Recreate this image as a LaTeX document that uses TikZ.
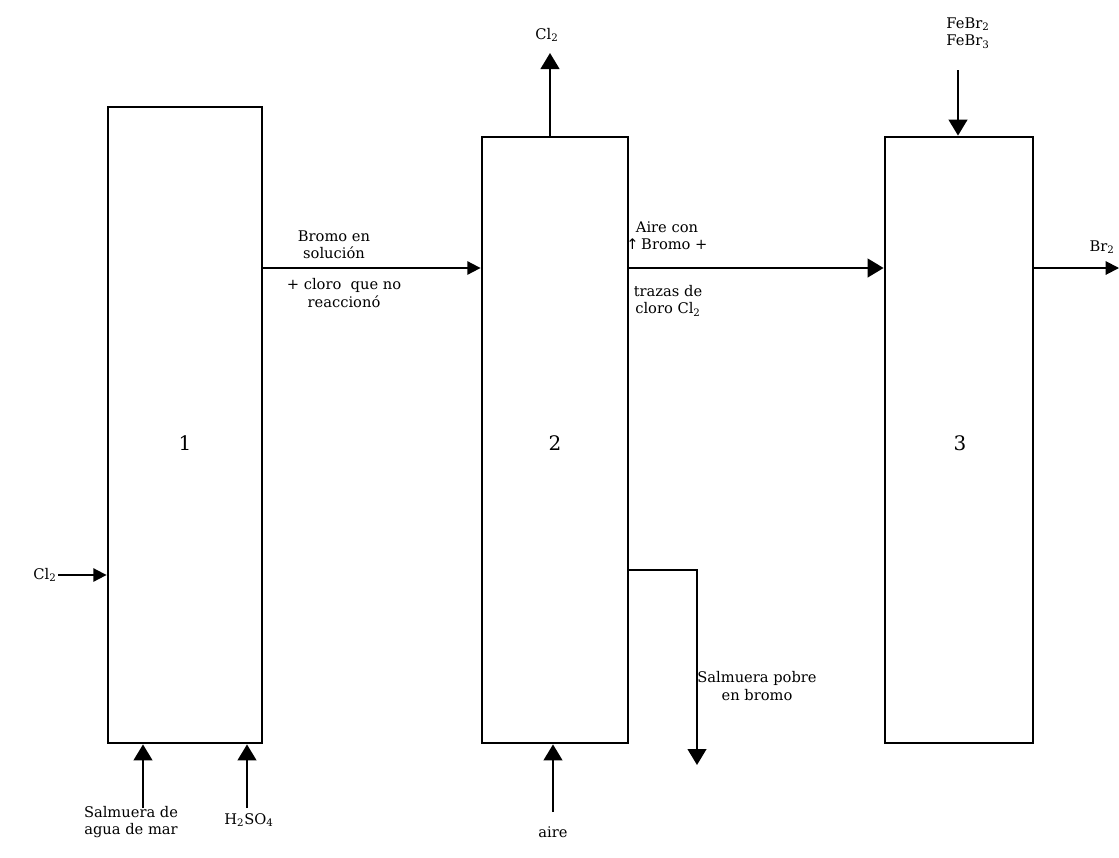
\documentclass[tikz,border=0pt]{standalone}
\usepackage{fontspec}
\setmainfont{DejaVu Serif}
\newfontfamily\symfont{DejaVu Sans}
\usetikzlibrary{arrows.meta}
\begin{document}
\begin{tikzpicture}[x=0.75pt,y=-0.75pt,
  unitbox/.style={draw, line width=2.1pt, inner sep=0pt},
  flow/.style={line width=1.7pt, -{Triangle[length=12pt,width=14pt]}},
  sflow/.style={line width=1.4pt, -{Triangle[length=10pt,width=10pt]}},
  lbl/.style={font=\fontsize{11}{13}\selectfont, inner sep=1pt, align=center},
  num/.style={font=\fontsize{15}{17}\selectfont, inner sep=0pt}]
\useasboundingbox (0,0) rectangle (1119,857);
% units
\node[unitbox, minimum width=115.5pt, minimum height=477pt] (b1) at (185,425) {};
\node[unitbox, minimum width=109.5pt, minimum height=454.5pt] (b2) at (555,440) {};
\node[unitbox, minimum width=111pt, minimum height=454.5pt] (b3) at (959,440) {};
\node[num] (n1) at (185,443) {1};
\node[num] (n2) at (555,443) {2};
\node[num] (n3) at (960,443) {3};
% unit 1 feeds
\node[lbl] (cl2in) at (45,575) {Cl\textsubscript{2}};
\draw[sflow] (cl2in.east) -- (cl2in.east -| b1.west);
\node[lbl] (salm) at (131,822) {Salmuera de\\agua de mar};
\coordinate (s1) at (143,808);
\draw[flow] (s1) -- (s1 |- b1.south);
\node[lbl] (h2so4) at (249,820) {H\textsubscript{2}SO\textsubscript{4}};
\coordinate (s2) at (247,808);
\draw[flow] (s2) -- (s2 |- b1.south);
% 1 -> 2
\coordinate (m12) at (262,268);
\draw[sflow] (b1.east |- m12) -- (b2.west |- m12);
\node[lbl] (brs) at (334,245) {Bromo en\\solución};
\node[lbl] (clr) at (344,293) {+ cloro \ que no\\reaccionó};
% unit 2
\node[lbl] (cl2out) at (547,35) {Cl\textsubscript{2}};
\coordinate (t2) at (550,53);
\draw[flow] (t2 |- b2.north) -- (t2);
\node[lbl] (aire) at (553,832) {aire};
\coordinate (a2) at (553,812);
\draw[flow] (a2) -- (a2 |- b2.south);
\coordinate (k1) at (697,570);
\coordinate (k2) at (697,765);
\draw[flow] (b2.east |- k1) -- (k1) -- (k2);
\node[lbl] (pobre) at (757,686) {Salmuera pobre\\en bromo};
% 2 -> 3
\draw[flow] (b2.east |- m12) -- (b3.west |- m12);
\node[lbl] (acb) at (667,236) {Aire con\\{\symfont ↑}\,Bromo +};
\node[lbl] (traz) at (668,301) {trazas de\\cloro Cl\textsubscript{2}};
% unit 3
\node[lbl] (febr) at (968,33) {FeBr\textsubscript{2}\\FeBr\textsubscript{3}};
\coordinate (f3) at (958,70);
\draw[flow] (f3) -- (f3 |- b3.north);
\node[lbl] (br2) at (1102,247) {Br\textsubscript{2}};
\coordinate (o3) at (1119,268);
\draw[sflow] (b3.east |- o3) -- (o3);
\end{tikzpicture}
\end{document}
